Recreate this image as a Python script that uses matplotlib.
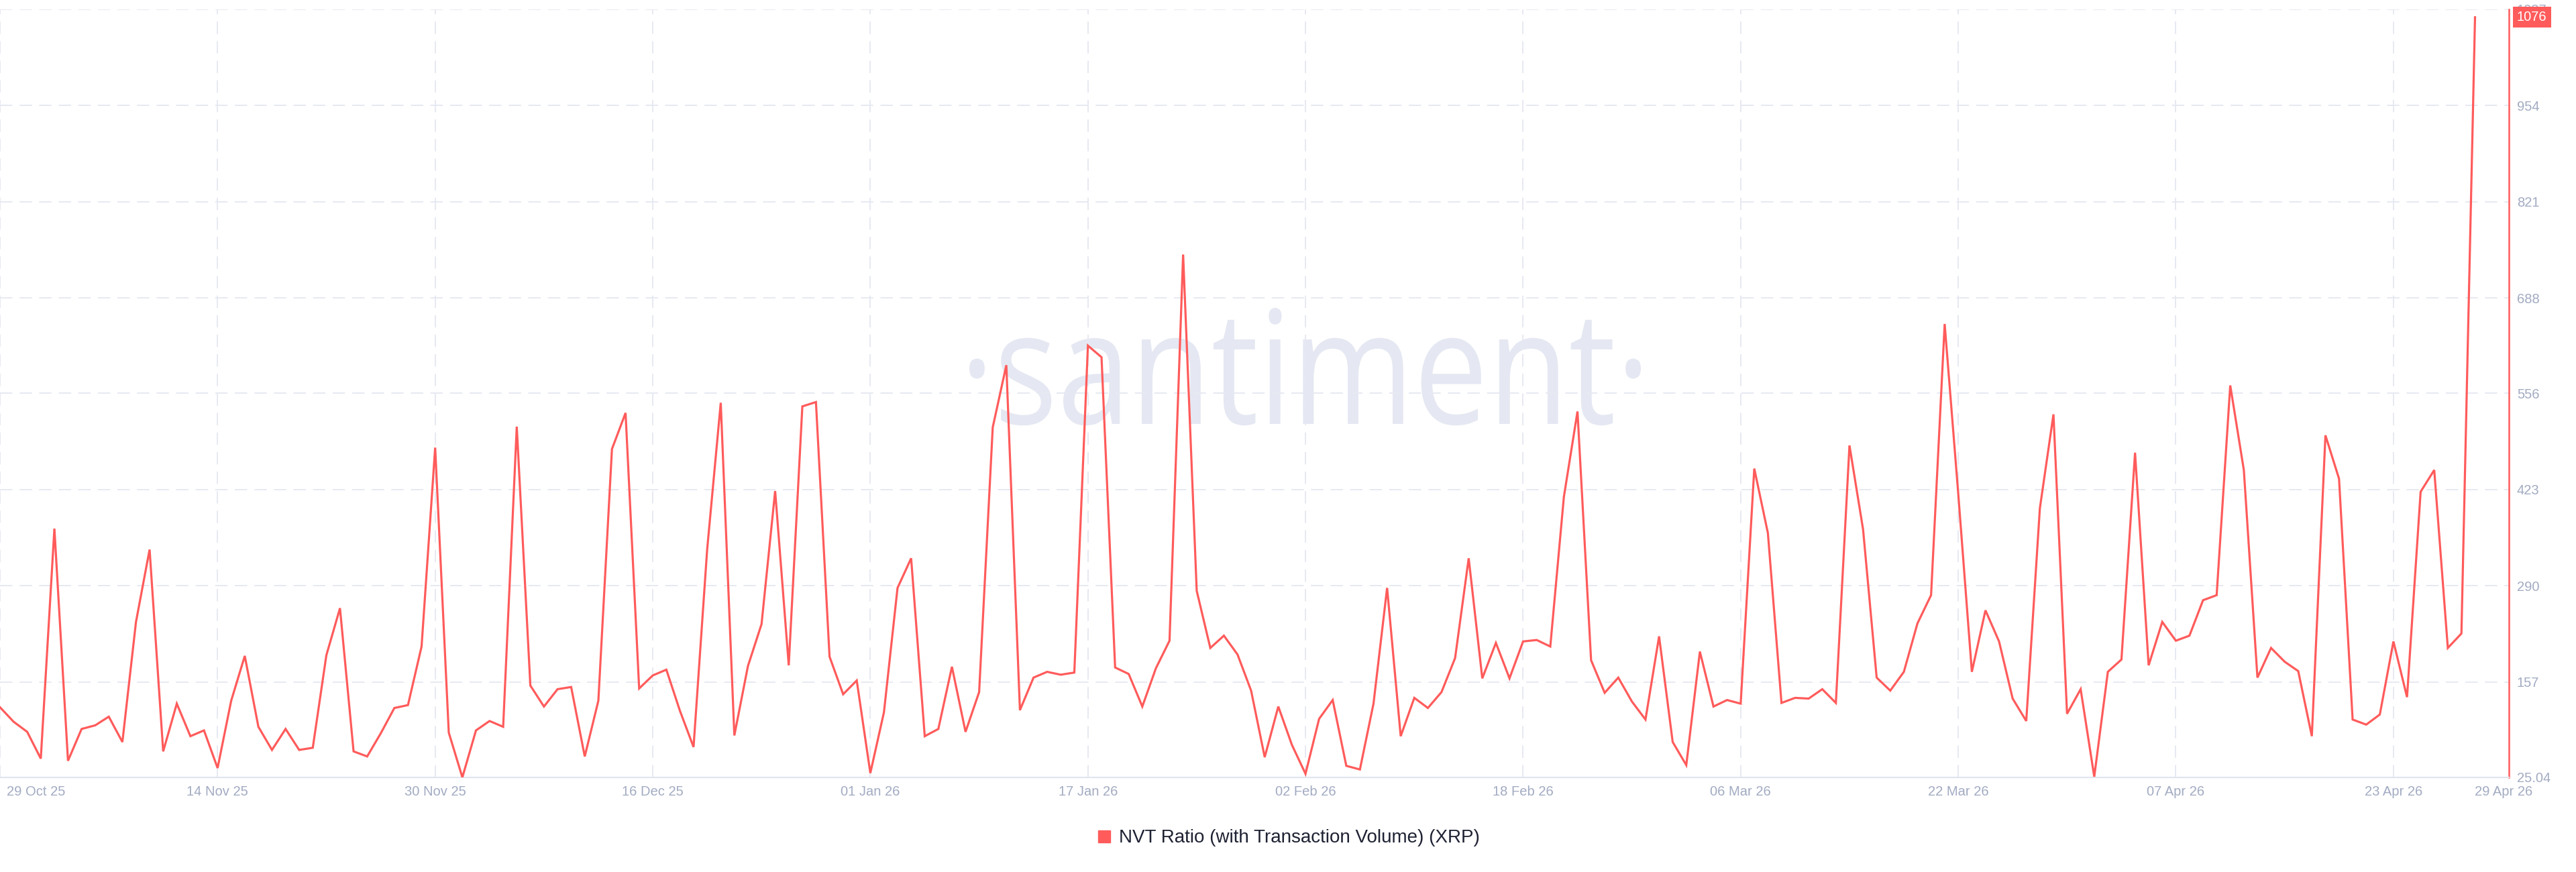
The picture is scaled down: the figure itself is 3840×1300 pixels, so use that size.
"""
NVT Ratio (with Transaction Volume) (XRP) — santiment style daily chart
"""
import matplotlib
matplotlib.use("Agg")
import matplotlib.pyplot as plt
import matplotlib.transforms as mtransforms
from matplotlib.lines import Line2D
from matplotlib.textpath import TextPath
from matplotlib.patches import PathPatch
from matplotlib.font_manager import FontProperties
import pandas as pd

# ── Data (daily, 29 Oct 25 → 29 Apr 26) ──────────────────────────────────────
START_DATE = "2025-10-29"
nvt = [
    122, 102, 88, 51, 369, 48, 92, 97, 109, 74,            # 29 Oct -
    240, 340, 61, 127, 82, 90, 38, 131, 193, 95,            # 08 Nov -
    63, 92, 63, 66, 194, 259, 61, 54, 86, 121,              # 18 Nov -
    125, 206, 481, 87, 25.04, 90, 103, 95, 510, 152,        # 28 Nov -
    123, 147, 150, 54, 131, 479, 529, 148, 166, 174,        # 08 Dec -
    117, 67, 340, 543, 83, 179, 237, 421, 180, 538,         # 18 Dec -
    544, 192, 140, 159, 31, 115, 287, 328, 82, 92,          # 28 Dec -
    178, 88, 143, 509, 595, 118, 163, 171, 167, 170,        # 07 Jan -
    622, 606, 177, 168, 123, 176, 214, 748, 283, 204,       # 17 Jan -
    221, 195, 145, 53, 123, 70, 30, 106, 132, 41,           # 27 Jan -
    36, 127, 287, 82, 135, 121, 143, 190, 328, 162,         # 06 Feb -
    211, 162, 213, 215, 206, 413, 531, 187, 142, 163,       # 16 Feb -
    130, 105, 220, 74, 42, 199, 123, 132, 127, 452,         # 26 Feb -
    363, 128, 135, 134, 147, 128, 484, 368, 163, 145,       # 08 Mar -
    171, 238, 277, 652, 417, 171, 256, 213, 134, 103,       # 18 Mar -
    397, 527, 113, 147, 26, 171, 188, 474, 180, 240,        # 28 Mar -
    214, 221, 270, 277, 567, 450, 163, 204, 185, 172,       # 07 Apr -
    82, 498, 438, 105, 98, 112, 213, 136, 420, 450,         # 17 Apr -
    204, 224, 1076,                                         # 27 Apr - 29 Apr
]
dates = pd.date_range(START_DATE, periods=len(nvt), freq="D")

X_TICKS = ["2025-10-29", "2025-11-14", "2025-11-30", "2025-12-16", "2026-01-01",
           "2026-01-17", "2026-02-02", "2026-02-18", "2026-03-06", "2026-03-22",
           "2026-04-07", "2026-04-23", "2026-04-29"]
X_LABELS = ["29 Oct 25", "14 Nov 25", "30 Nov 25", "16 Dec 25", "01 Jan 26",
            "17 Jan 26", "02 Feb 26", "18 Feb 26", "06 Mar 26", "22 Mar 26",
            "07 Apr 26", "23 Apr 26", "29 Apr 26"]
Y_TICKS = [25.04, 157, 290, 423, 556, 688, 821, 954, 1087]
Y_LABELS = ["25.04", "157", "290", "423", "556", "688", "821", "954", "1087"]
LAST_VALUE = 1076
SERIES_NAME = "NVT Ratio (with Transaction Volume) (XRP)"

# ── Style ─────────────────────────────────────────────────────────────────────
RED = "#ff5b5b"
GRID = "#e7e9f2"
TICK_C = "#a2abc2"
plt.rcParams["font.family"] = ["Liberation Sans", "DejaVu Sans"]

fig = plt.figure(figsize=(38.4, 13), dpi=100)
fig.patch.set_facecolor("white")
ax = fig.add_axes([0.0, 0.1085, 0.974, 0.8808])

x_ticks = pd.to_datetime(X_TICKS)

# dashed grid (no vertical line at the last tick, no line at the floor)
for d in x_ticks[:-1]:
    ax.axvline(d, color=GRID, lw=1.4, dashes=(9.5, 5.5), zorder=1)
for v in Y_TICKS[1:]:
    ax.axhline(v, color=GRID, lw=1.4, dashes=(9.5, 5.5), zorder=1)

# watermark, drawn in pixel space
fp = FontProperties(family="Open Sans")
wm = TextPath((0, 0), "·santiment·", size=100, prop=fp)
bb = wm.get_extents()
xh = TextPath((0, 0), "x", size=100, prop=fp).get_extents().height
wm_trans = (mtransforms.Affine2D()
            .translate(-bb.x0, 0)
            .scale(1001 / bb.width, 126 / xh)
            .translate(1445, 668))
ax.add_patch(PathPatch(wm, transform=wm_trans, facecolor="#e5e8f2",
                       edgecolor="none", zorder=0.5))

# the series
ax.plot(dates, nvt, color=RED, lw=2.3, zorder=3, solid_joinstyle="miter")

ax.set_xlim(dates[0], dates[-1] + pd.Timedelta(days=2.5))
ax.set_ylim(Y_TICKS[0], Y_TICKS[-1])

ax.set_xticks(x_ticks)
ax.set_xticklabels(X_LABELS)
ax.set_yticks(Y_TICKS)
ax.set_yticklabels(Y_LABELS)
ax.tick_params(axis="x", length=0, pad=8.5, labelsize=14.5, colors=TICK_C)
ax.tick_params(axis="y", length=0, pad=8.5, labelsize=14.5, colors=TICK_C,
               left=False, labelleft=False, right=True, labelright=True)
xl = ax.get_xticklabels()
xl[0].set_ha("left")
xl[0].set_transform(xl[0].get_transform()
                    + mtransforms.ScaledTranslation(0.1, 0, fig.dpi_scale_trans))
xl[-1].set_ha("left")

for s in ("top", "left"):
    ax.spines[s].set_visible(False)
ax.spines["bottom"].set_color("#e1e5ef")
ax.spines["bottom"].set_linewidth(1.6)
ax.spines["right"].set_color(RED)
ax.spines["right"].set_linewidth(1.8)

# last value badge on the right axis
ax.annotate(f"{LAST_VALUE}", xy=(1, LAST_VALUE), xycoords=("axes fraction", "data"),
            xytext=(8.5, 0), textcoords="offset points", ha="left", va="center",
            fontsize=14.5, color="white", zorder=10, annotation_clip=False,
            bbox=dict(boxstyle="square,pad=0.3", facecolor=RED, edgecolor="none"))

# legend below the plot
handle = Line2D([], [], marker="s", ls="none", color=RED, markersize=12.5)
fig.legend([handle], [SERIES_NAME], loc="center", bbox_to_anchor=(0.5, 0.039),
           frameon=False, fontsize=20, labelcolor="#1f2233",
           handlelength=0.8, handletextpad=0.4)

fig.savefig("out.png", dpi=100)
plt.close(fig)
print("Saved out.png")
